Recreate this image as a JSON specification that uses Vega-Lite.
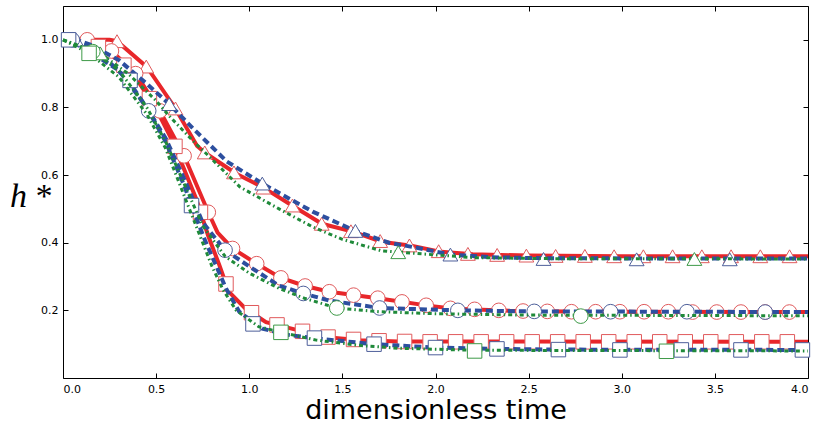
{
"$schema":"https://vega.github.io/schema/vega-lite/v6.json",
"width":745,"height":372,
"autosize":{"type":"none"},
"padding":{"left":63,"top":6,"right":9,"bottom":45},
"background":"white",
"config":{"view":{"stroke":"black","strokeWidth":1},"axis":{"grid":false,"domain":false,"ticks":true,"tickSize":-5,"tickColor":"black","labelFont":"DejaVu Sans","labelFontSize":11,"labelColor":"black","labelPadding":10}},
"datasets":{
"lines":[
{"g":"tri","s":"red","x":0,"y":1.0},{"g":"tri","s":"red","x":0.25,"y":1.0},{"g":"tri","s":"red","x":0.29,"y":0.996},{"g":"tri","s":"red","x":0.45,"y":0.92},{"g":"tri","s":"red","x":0.6,"y":0.8},{"g":"tri","s":"red","x":0.72,"y":0.686},{"g":"tri","s":"red","x":0.77,"y":0.663},{"g":"tri","s":"red","x":0.93,"y":0.604},{"g":"tri","s":"red","x":1.07,"y":0.565},{"g":"tri","s":"red","x":1.23,"y":0.51},{"g":"tri","s":"red","x":1.39,"y":0.456},{"g":"tri","s":"red","x":1.56,"y":0.432},{"g":"tri","s":"red","x":1.71,"y":0.403},{"g":"tri","s":"red","x":1.87,"y":0.391},{"g":"tri","s":"red","x":2.03,"y":0.373},{"g":"tri","s":"red","x":2.2,"y":0.366},{"g":"tri","s":"red","x":2.5,"y":0.362},{"g":"tri","s":"red","x":3.0,"y":0.36},{"g":"tri","s":"red","x":4.0,"y":0.36},
{"g":"tri","s":"blue","x":0,"y":1.0},{"g":"tri","s":"blue","x":0.07,"y":1.0},{"g":"tri","s":"blue","x":0.15,"y":0.985},{"g":"tri","s":"blue","x":0.3,"y":0.94},{"g":"tri","s":"blue","x":0.45,"y":0.87},{"g":"tri","s":"blue","x":0.57,"y":0.81},{"g":"tri","s":"blue","x":0.7,"y":0.737},{"g":"tri","s":"blue","x":0.88,"y":0.64},{"g":"tri","s":"blue","x":1.07,"y":0.575},{"g":"tri","s":"blue","x":1.34,"y":0.492},{"g":"tri","s":"blue","x":1.57,"y":0.435},{"g":"tri","s":"blue","x":1.75,"y":0.4},{"g":"tri","s":"blue","x":1.9,"y":0.385},{"g":"tri","s":"blue","x":2.08,"y":0.365},{"g":"tri","s":"blue","x":2.3,"y":0.357},{"g":"tri","s":"blue","x":2.6,"y":0.354},{"g":"tri","s":"blue","x":4.0,"y":0.353},
{"g":"tri","s":"green","x":0,"y":1.0},{"g":"tri","s":"green","x":0.1,"y":0.98},{"g":"tri","s":"green","x":0.2,"y":0.96},{"g":"tri","s":"green","x":0.35,"y":0.9},{"g":"tri","s":"green","x":0.5,"y":0.82},{"g":"tri","s":"green","x":0.57,"y":0.775},{"g":"tri","s":"green","x":0.7,"y":0.7},{"g":"tri","s":"green","x":0.77,"y":0.663},{"g":"tri","s":"green","x":0.95,"y":0.565},{"g":"tri","s":"green","x":1.16,"y":0.5},{"g":"tri","s":"green","x":1.34,"y":0.447},{"g":"tri","s":"green","x":1.5,"y":0.41},{"g":"tri","s":"green","x":1.71,"y":0.376},{"g":"tri","s":"green","x":1.93,"y":0.367},{"g":"tri","s":"green","x":2.2,"y":0.356},{"g":"tri","s":"green","x":2.6,"y":0.353},{"g":"tri","s":"green","x":4.0,"y":0.352},
{"g":"cir","s":"red","x":0,"y":1.0},{"g":"cir","s":"red","x":0.13,"y":1.0},{"g":"cir","s":"red","x":0.26,"y":0.967},{"g":"cir","s":"red","x":0.39,"y":0.9},{"g":"cir","s":"red","x":0.52,"y":0.79},{"g":"cir","s":"red","x":0.65,"y":0.657},{"g":"cir","s":"red","x":0.78,"y":0.49},{"g":"cir","s":"red","x":0.83,"y":0.43},{"g":"cir","s":"red","x":0.91,"y":0.383},{"g":"cir","s":"red","x":1.04,"y":0.338},{"g":"cir","s":"red","x":1.17,"y":0.296},{"g":"cir","s":"red","x":1.3,"y":0.272},{"g":"cir","s":"red","x":1.43,"y":0.255},{"g":"cir","s":"red","x":1.7,"y":0.235},{"g":"cir","s":"red","x":1.96,"y":0.214},{"g":"cir","s":"red","x":2.1,"y":0.205},{"g":"cir","s":"red","x":2.4,"y":0.199},{"g":"cir","s":"red","x":2.8,"y":0.196},{"g":"cir","s":"red","x":4.0,"y":0.195},
{"g":"cir","s":"blue","x":0,"y":1.0},{"g":"cir","s":"blue","x":0.05,"y":1.0},{"g":"cir","s":"blue","x":0.2,"y":0.96},{"g":"cir","s":"blue","x":0.35,"y":0.88},{"g":"cir","s":"blue","x":0.46,"y":0.79},{"g":"cir","s":"blue","x":0.55,"y":0.71},{"g":"cir","s":"blue","x":0.65,"y":0.59},{"g":"cir","s":"blue","x":0.75,"y":0.46},{"g":"cir","s":"blue","x":0.87,"y":0.378},{"g":"cir","s":"blue","x":1.0,"y":0.33},{"g":"cir","s":"blue","x":1.16,"y":0.273},{"g":"cir","s":"blue","x":1.29,"y":0.25},{"g":"cir","s":"blue","x":1.43,"y":0.229},{"g":"cir","s":"blue","x":1.7,"y":0.207},{"g":"cir","s":"blue","x":2.12,"y":0.2},{"g":"cir","s":"blue","x":2.5,"y":0.197},{"g":"cir","s":"blue","x":4.0,"y":0.195},
{"g":"cir","s":"green","x":0,"y":1.0},{"g":"cir","s":"green","x":0.16,"y":0.965},{"g":"cir","s":"green","x":0.3,"y":0.91},{"g":"cir","s":"green","x":0.45,"y":0.8},{"g":"cir","s":"green","x":0.55,"y":0.7},{"g":"cir","s":"green","x":0.65,"y":0.575},{"g":"cir","s":"green","x":0.75,"y":0.45},{"g":"cir","s":"green","x":0.87,"y":0.36},{"g":"cir","s":"green","x":1.0,"y":0.31},{"g":"cir","s":"green","x":1.16,"y":0.265},{"g":"cir","s":"green","x":1.3,"y":0.235},{"g":"cir","s":"green","x":1.47,"y":0.207},{"g":"cir","s":"green","x":1.7,"y":0.196},{"g":"cir","s":"green","x":2.0,"y":0.19},{"g":"cir","s":"green","x":2.5,"y":0.186},{"g":"cir","s":"green","x":4.0,"y":0.184},
{"g":"sq","s":"red","x":0,"y":1.0},{"g":"sq","s":"red","x":0.15,"y":0.99},{"g":"sq","s":"red","x":0.3,"y":0.94},{"g":"sq","s":"red","x":0.4,"y":0.88},{"g":"sq","s":"red","x":0.5,"y":0.796},{"g":"sq","s":"red","x":0.59,"y":0.698},{"g":"sq","s":"red","x":0.715,"y":0.53},{"g":"sq","s":"red","x":0.78,"y":0.42},{"g":"sq","s":"red","x":0.84,"y":0.333},{"g":"sq","s":"red","x":0.89,"y":0.255},{"g":"sq","s":"red","x":0.98,"y":0.205},{"g":"sq","s":"red","x":1.09,"y":0.165},{"g":"sq","s":"red","x":1.27,"y":0.14},{"g":"sq","s":"red","x":1.43,"y":0.12},{"g":"sq","s":"red","x":1.6,"y":0.112},{"g":"sq","s":"red","x":1.8,"y":0.108},{"g":"sq","s":"red","x":4.0,"y":0.107},
{"g":"sq","s":"blue","x":0,"y":1.0},{"g":"sq","s":"blue","x":0.1,"y":0.98},{"g":"sq","s":"blue","x":0.3,"y":0.91},{"g":"sq","s":"blue","x":0.45,"y":0.8},{"g":"sq","s":"blue","x":0.55,"y":0.7},{"g":"sq","s":"blue","x":0.65,"y":0.57},{"g":"sq","s":"blue","x":0.69,"y":0.51},{"g":"sq","s":"blue","x":0.76,"y":0.41},{"g":"sq","s":"blue","x":0.876,"y":0.264},{"g":"sq","s":"blue","x":0.946,"y":0.196},{"g":"sq","s":"blue","x":1.07,"y":0.146},{"g":"sq","s":"blue","x":1.2,"y":0.128},{"g":"sq","s":"blue","x":1.36,"y":0.117},{"g":"sq","s":"blue","x":1.67,"y":0.1},{"g":"sq","s":"blue","x":2.0,"y":0.09},{"g":"sq","s":"blue","x":2.33,"y":0.086},{"g":"sq","s":"blue","x":2.66,"y":0.084},{"g":"sq","s":"blue","x":4.0,"y":0.083},
{"g":"sq","s":"green","x":0,"y":1.0},{"g":"sq","s":"green","x":0.14,"y":0.96},{"g":"sq","s":"green","x":0.3,"y":0.89},{"g":"sq","s":"green","x":0.45,"y":0.78},{"g":"sq","s":"green","x":0.55,"y":0.68},{"g":"sq","s":"green","x":0.65,"y":0.54},{"g":"sq","s":"green","x":0.7,"y":0.47},{"g":"sq","s":"green","x":0.8,"y":0.33},{"g":"sq","s":"green","x":0.86,"y":0.26},{"g":"sq","s":"green","x":0.93,"y":0.2},{"g":"sq","s":"green","x":1.05,"y":0.152},{"g":"sq","s":"green","x":1.17,"y":0.135},{"g":"sq","s":"green","x":1.36,"y":0.112},{"g":"sq","s":"green","x":1.6,"y":0.096},{"g":"sq","s":"green","x":1.8,"y":0.088},{"g":"sq","s":"green","x":2.21,"y":0.082},{"g":"sq","s":"green","x":4.0,"y":0.08}
],
"pts":[
{"g":"tri","s":"red","x":0.29,"y":0.996},{"g":"tri","s":"red","x":0.447,"y":0.921},{"g":"tri","s":"red","x":0.604,"y":0.797},{"g":"tri","s":"red","x":0.761,"y":0.667},{"g":"tri","s":"red","x":0.918,"y":0.608},{"g":"tri","s":"red","x":1.075,"y":0.563},{"g":"tri","s":"red","x":1.232,"y":0.51},{"g":"tri","s":"red","x":1.389,"y":0.456},{"g":"tri","s":"red","x":1.546,"y":0.434},{"g":"tri","s":"red","x":1.703,"y":0.405},{"g":"tri","s":"red","x":1.86,"y":0.392},{"g":"tri","s":"red","x":2.017,"y":0.375},{"g":"tri","s":"red","x":2.174,"y":0.367},{"g":"tri","s":"red","x":2.331,"y":0.364},{"g":"tri","s":"red","x":2.488,"y":0.362},{"g":"tri","s":"red","x":2.645,"y":0.361},{"g":"tri","s":"red","x":2.802,"y":0.361},{"g":"tri","s":"red","x":2.959,"y":0.36},{"g":"tri","s":"red","x":3.116,"y":0.36},{"g":"tri","s":"red","x":3.273,"y":0.36},{"g":"tri","s":"red","x":3.43,"y":0.36},{"g":"tri","s":"red","x":3.587,"y":0.36},{"g":"tri","s":"red","x":3.744,"y":0.36},{"g":"tri","s":"red","x":3.901,"y":0.36},
{"g":"tri","s":"blue","x":0.07,"y":1.0},{"g":"tri","s":"blue","x":0.57,"y":0.81},{"g":"tri","s":"blue","x":1.07,"y":0.575},{"g":"tri","s":"blue","x":1.57,"y":0.435},{"g":"tri","s":"blue","x":2.08,"y":0.365},{"g":"tri","s":"blue","x":2.58,"y":0.352},{"g":"tri","s":"blue","x":3.08,"y":0.351},{"g":"tri","s":"blue","x":3.58,"y":0.351},
{"g":"tri","s":"green","x":0.2,"y":0.96},{"g":"tri","s":"green","x":1.8,"y":0.372},{"g":"tri","s":"green","x":3.39,"y":0.352},
{"g":"cir","s":"red","x":0.13,"y":1.0},{"g":"cir","s":"red","x":0.26,"y":0.967},{"g":"cir","s":"red","x":0.39,"y":0.9},{"g":"cir","s":"red","x":0.52,"y":0.79},{"g":"cir","s":"red","x":0.65,"y":0.657},{"g":"cir","s":"red","x":0.78,"y":0.49},{"g":"cir","s":"red","x":0.91,"y":0.383},{"g":"cir","s":"red","x":1.04,"y":0.338},{"g":"cir","s":"red","x":1.17,"y":0.296},{"g":"cir","s":"red","x":1.3,"y":0.272},{"g":"cir","s":"red","x":1.43,"y":0.255},{"g":"cir","s":"red","x":1.56,"y":0.245},{"g":"cir","s":"red","x":1.69,"y":0.236},{"g":"cir","s":"red","x":1.82,"y":0.225},{"g":"cir","s":"red","x":1.95,"y":0.215},{"g":"cir","s":"red","x":2.08,"y":0.206},{"g":"cir","s":"red","x":2.21,"y":0.203},{"g":"cir","s":"red","x":2.34,"y":0.2},{"g":"cir","s":"red","x":2.47,"y":0.198},{"g":"cir","s":"red","x":2.6,"y":0.197},{"g":"cir","s":"red","x":2.73,"y":0.196},{"g":"cir","s":"red","x":2.86,"y":0.196},{"g":"cir","s":"red","x":2.99,"y":0.196},{"g":"cir","s":"red","x":3.12,"y":0.196},{"g":"cir","s":"red","x":3.25,"y":0.196},{"g":"cir","s":"red","x":3.38,"y":0.195},{"g":"cir","s":"red","x":3.51,"y":0.195},{"g":"cir","s":"red","x":3.64,"y":0.195},{"g":"cir","s":"red","x":3.77,"y":0.195},{"g":"cir","s":"red","x":3.9,"y":0.195},
{"g":"cir","s":"blue","x":0.05,"y":1.0},{"g":"cir","s":"blue","x":0.46,"y":0.79},{"g":"cir","s":"blue","x":0.87,"y":0.378},{"g":"cir","s":"blue","x":1.29,"y":0.25},{"g":"cir","s":"blue","x":1.7,"y":0.207},{"g":"cir","s":"blue","x":2.12,"y":0.2},{"g":"cir","s":"blue","x":2.53,"y":0.197},{"g":"cir","s":"blue","x":2.94,"y":0.196},{"g":"cir","s":"blue","x":3.35,"y":0.196},{"g":"cir","s":"blue","x":3.77,"y":0.195},
{"g":"cir","s":"green","x":0.16,"y":0.965},{"g":"cir","s":"green","x":1.47,"y":0.207},{"g":"cir","s":"green","x":2.78,"y":0.183},
{"g":"sq","s":"red","x":0.19,"y":0.98},{"g":"sq","s":"red","x":0.327,"y":0.925},{"g":"sq","s":"red","x":0.464,"y":0.826},{"g":"sq","s":"red","x":0.601,"y":0.685},{"g":"sq","s":"red","x":0.738,"y":0.49},{"g":"sq","s":"red","x":0.875,"y":0.278},{"g":"sq","s":"red","x":1.012,"y":0.193},{"g":"sq","s":"red","x":1.149,"y":0.157},{"g":"sq","s":"red","x":1.286,"y":0.138},{"g":"sq","s":"red","x":1.423,"y":0.121},{"g":"sq","s":"red","x":1.56,"y":0.114},{"g":"sq","s":"red","x":1.697,"y":0.11},{"g":"sq","s":"red","x":1.834,"y":0.108},{"g":"sq","s":"red","x":1.971,"y":0.107},{"g":"sq","s":"red","x":2.108,"y":0.107},{"g":"sq","s":"red","x":2.245,"y":0.107},{"g":"sq","s":"red","x":2.382,"y":0.107},{"g":"sq","s":"red","x":2.519,"y":0.107},{"g":"sq","s":"red","x":2.656,"y":0.107},{"g":"sq","s":"red","x":2.793,"y":0.107},{"g":"sq","s":"red","x":2.93,"y":0.107},{"g":"sq","s":"red","x":3.067,"y":0.107},{"g":"sq","s":"red","x":3.204,"y":0.107},{"g":"sq","s":"red","x":3.341,"y":0.107},{"g":"sq","s":"red","x":3.478,"y":0.107},{"g":"sq","s":"red","x":3.615,"y":0.107},{"g":"sq","s":"red","x":3.752,"y":0.107},{"g":"sq","s":"red","x":3.889,"y":0.107},
{"g":"sq","s":"blue","x":0.03,"y":1.0},{"g":"sq","s":"blue","x":0.36,"y":0.88},{"g":"sq","s":"blue","x":0.69,"y":0.51},{"g":"sq","s":"blue","x":1.02,"y":0.16},{"g":"sq","s":"blue","x":1.35,"y":0.118},{"g":"sq","s":"blue","x":1.67,"y":0.1},{"g":"sq","s":"blue","x":2.0,"y":0.09},{"g":"sq","s":"blue","x":2.33,"y":0.086},{"g":"sq","s":"blue","x":2.66,"y":0.084},{"g":"sq","s":"blue","x":2.99,"y":0.083},{"g":"sq","s":"blue","x":3.32,"y":0.083},{"g":"sq","s":"blue","x":3.64,"y":0.083},{"g":"sq","s":"blue","x":3.97,"y":0.083},
{"g":"sq","s":"green","x":0.14,"y":0.96},{"g":"sq","s":"green","x":1.17,"y":0.135},{"g":"sq","s":"green","x":2.21,"y":0.08},{"g":"sq","s":"green","x":3.24,"y":0.079}
]},
"layer":[
{"data":{"name":"lines"},"transform":[{"filter":"datum.s==='red'"}],
 "mark":{"type":"line","color":"#e8262a","strokeWidth":4},
 "encoding":{
  "x":{"field":"x","type":"quantitative","scale":{"domain":[0,4],"nice":false},"axis":{"orient":"bottom","values":[0,0.5,1,1.5,2,2.5,3,3.5,4],"format":".1f","title":"dimensionless time","titleFont":"DejaVu Sans","titleFontSize":27,"titleFontWeight":"normal","titleColor":"black","titleBaseline":"alphabetic","titleY":40}},
  "y":{"field":"y","type":"quantitative","scale":{"domain":[0,1.1],"nice":false,"zero":false},"axis":{"orient":"left","values":[0.2,0.4,0.6,0.8,1.0],"format":".1f","title":"h\u2009*","titleAngle":0,"titleFont":"Liberation Serif","titleFontStyle":"italic","titleFontSize":34,"titleFontWeight":"normal","titleColor":"black","titleAlign":"center","titleBaseline":"alphabetic","titleX":-33,"titleY":200}},
  "detail":{"field":"g"}}},
{"data":{"name":"pts"},"transform":[{"filter":"datum.s==='red'"}],
 "mark":{"type":"point","filled":true,"fill":"white","stroke":"#e05a5c","strokeWidth":1,"opacity":1},
 "encoding":{
  "x":{"field":"x","type":"quantitative","axis":null},
  "y":{"field":"y","type":"quantitative","axis":null},
  "shape":{"field":"g","type":"nominal","scale":{"domain":["tri","cir","sq"],"range":["triangle-up","circle","square"]},"legend":null},
  "size":{"field":"g","type":"nominal","scale":{"domain":["tri","cir","sq"],"range":[220,210,180]},"legend":null}}},
{"data":{"name":"lines"},"transform":[{"filter":"datum.s==='blue'"}],
 "mark":{"type":"line","color":"#2d4f9f","strokeWidth":4,"strokeDash":[7,4]},
 "encoding":{"x":{"field":"x","type":"quantitative","axis":null},"y":{"field":"y","type":"quantitative","axis":null},"detail":{"field":"g"}}},
{"data":{"name":"pts"},"transform":[{"filter":"datum.s==='blue'"}],
 "mark":{"type":"point","filled":true,"fill":"white","stroke":"#4d5f9a","strokeWidth":1,"opacity":1},
 "encoding":{
  "x":{"field":"x","type":"quantitative","axis":null},
  "y":{"field":"y","type":"quantitative","axis":null},
  "shape":{"field":"g","type":"nominal","legend":null},
  "size":{"field":"g","type":"nominal","legend":null}}},
{"data":{"name":"lines"},"transform":[{"filter":"datum.s==='green'"}],
 "mark":{"type":"line","color":"#1f8a3a","strokeWidth":3,"strokeDash":[4,3,1.5,3]},
 "encoding":{"x":{"field":"x","type":"quantitative","axis":null},"y":{"field":"y","type":"quantitative","axis":null},"detail":{"field":"g"}}},
{"data":{"name":"pts"},"transform":[{"filter":"datum.s==='green'"}],
 "mark":{"type":"point","filled":true,"fill":"white","stroke":"#3e9a48","strokeWidth":1,"opacity":1},
 "encoding":{
  "x":{"field":"x","type":"quantitative","axis":{"orient":"top","values":[0,0.5,1,1.5,2,2.5,3,3.5,4],"labels":false,"title":null}},
  "y":{"field":"y","type":"quantitative","axis":{"orient":"right","values":[0.2,0.4,0.6,0.8,1.0],"labels":false,"title":null}},
  "shape":{"field":"g","type":"nominal","legend":null},
  "size":{"field":"g","type":"nominal","legend":null}}}
],
"resolve":{"axis":{"x":"independent","y":"independent"}}
}
